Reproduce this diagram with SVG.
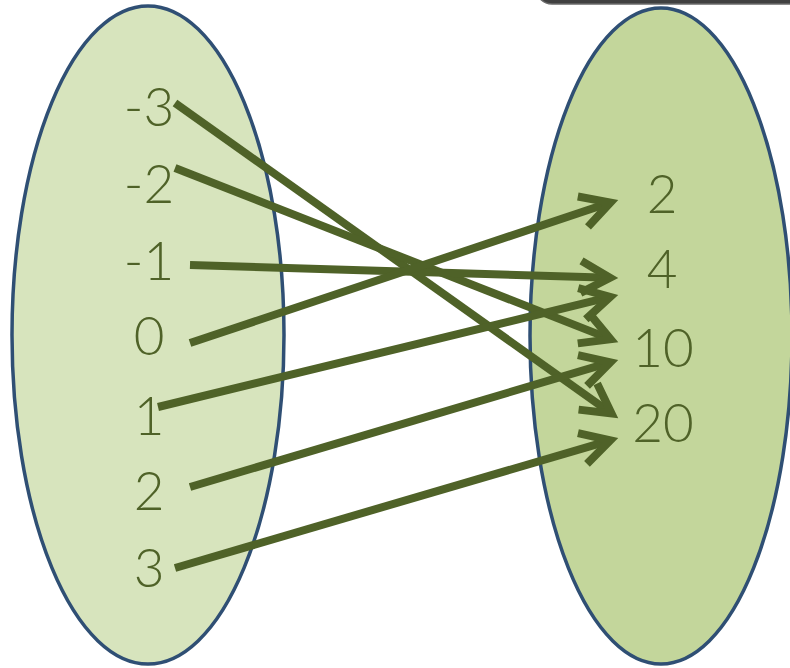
<svg xmlns="http://www.w3.org/2000/svg" width="790" height="668" viewBox="0 0 790 668">
<style>
.set{stroke:#2f4f74;stroke-width:3.5}
.lbl{font-family:Lato,"Open Sans","Liberation Sans",sans-serif;font-weight:300;font-size:53px;fill:#4f6228;text-anchor:middle}
.arr{stroke:#4f6228;stroke-width:8;fill:none;marker-end:url(#ah)}
</style>
<defs>
<marker id="ah" markerUnits="userSpaceOnUse" orient="auto" refX="0" refY="0" markerWidth="60" markerHeight="60" viewBox="-40 -30 60 60" overflow="visible">
<path d="M-29,-16 L0,0 L-29,16" fill="none" stroke="#4f6228" stroke-width="8" stroke-linejoin="miter" stroke-miterlimit="10"/>
</marker>
</defs>
<rect width="790" height="668" fill="#ffffff"/>
<rect x="536" y="-40" width="280" height="44" rx="16" fill="#404040" stroke="#6a6a6a" stroke-width="1.5"/>
<g id="domain">
<ellipse class="set" cx="148" cy="335" rx="136" ry="329" fill="#d7e4bd"/>
<text class="lbl" x="149" y="126">-3</text>
<text class="lbl" x="149" y="203">-2</text>
<text class="lbl" x="149" y="280">-1</text>
<text class="lbl" x="149" y="355">0</text>
<text class="lbl" x="149" y="435">1</text>
<text class="lbl" x="149" y="510">2</text>
<text class="lbl" x="149" y="587">3</text>
</g>
<g id="range">
<ellipse class="set" cx="661" cy="336" rx="131" ry="328" fill="#c3d69b"/>
<text class="lbl" x="662" y="213">2</text>
<text class="lbl" x="662" y="288">4</text>
<text class="lbl" x="663" y="367">10</text>
<text class="lbl" x="663" y="442">20</text>
</g>
<g id="connectors">
<line class="arr" x1="175" y1="103" x2="611.5" y2="413.4"/>
<line class="arr" x1="175" y1="168" x2="610.6" y2="339.1"/>
<line class="arr" x1="190" y1="265" x2="610" y2="277.8"/>
<line class="arr" x1="190" y1="343" x2="610.4" y2="202.5"/>
<line class="arr" x1="158" y1="407" x2="610.2" y2="296.9"/>
<line class="arr" x1="190" y1="487" x2="610.3" y2="362.3"/>
<line class="arr" x1="175" y1="568" x2="610.3" y2="440.3"/>
</g>
</svg>
